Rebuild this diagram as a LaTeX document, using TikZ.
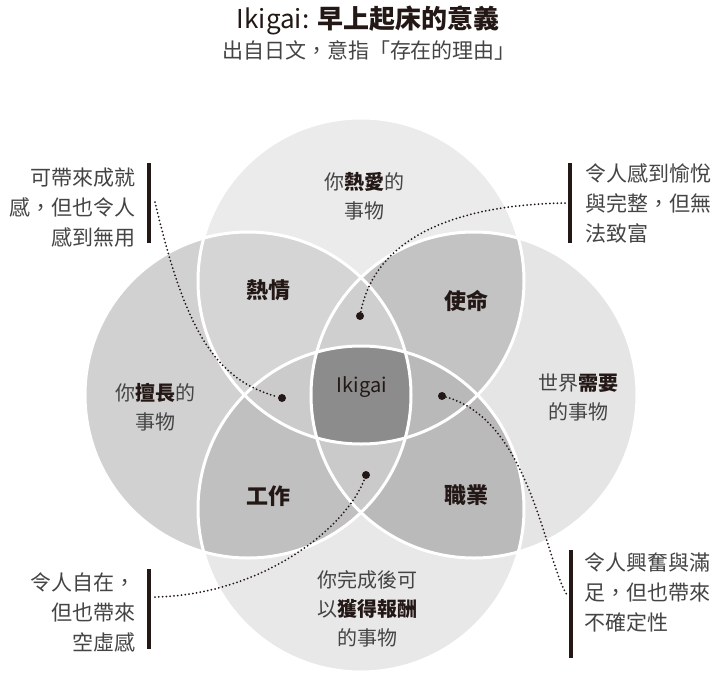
\documentclass[tikz,border=0pt]{standalone}
\usepackage{fontspec}
\setmainfont{Noto Sans CJK TC}
\definecolor{ink}{HTML}{231815}
\definecolor{txt}{HTML}{444444}
\definecolor{cTop}{HTML}{EBEBEB}
\definecolor{cLeft}{HTML}{D1D1D1}
\definecolor{cRight}{HTML}{E5E5E5}
\definecolor{cBot}{HTML}{E8E8E8}
\definecolor{cTL}{HTML}{D5D5D5}
\definecolor{cTR}{HTML}{C3C3C3}
\definecolor{cBL}{HTML}{C0C0C0}
\definecolor{cBR}{HTML}{BABABA}
\definecolor{cLensU}{HTML}{CFCFCF}
\definecolor{cLensD}{HTML}{CACACA}
\definecolor{cLensL}{HTML}{CBCBCB}
\definecolor{cLensR}{HTML}{B9B9B9}
\definecolor{cMid}{HTML}{8C8C8C}
\begin{document}
\begin{tikzpicture}[x=1pt,y=-1pt,
  lbl/.style={align=center,text=txt,font=\fontsize{20}{29}\selectfont},
  reg/.style={text=ink,font=\fontsize{22}{26}\selectfont\bfseries},
  note/.style={text=txt,font=\fontsize{21}{30}\selectfont},
  bar/.style={draw=ink,line width=4pt},
  dotline/.style={draw=ink,line width=2pt,line cap=round,dash pattern=on 0pt off 3.8pt},
  dotmark/.style={circle,fill=ink,inner sep=0pt,minimum size=8pt},
  ring/.style={draw=white,line width=3pt}]
\useasboundingbox (0,0) rectangle (721,678);
\fill[white] (0,0) rectangle (721,678);
\coordinate (T) at (361,281);
\coordinate (B) at (361,509);
\coordinate (L) at (248,395);
\coordinate (R) at (474,395);
\def\rr{163pt}
% base circles
\fill[cTop] (T) circle[radius=\rr];
\fill[cBot] (B) circle[radius=\rr];
\fill[cLeft] (L) circle[radius=\rr];
\fill[cRight] (R) circle[radius=\rr];
% pair overlaps
\begin{scope}\clip (T) circle[radius=\rr]; \fill[cTL] (L) circle[radius=\rr];\end{scope}
\begin{scope}\clip (T) circle[radius=\rr]; \fill[cTR] (R) circle[radius=\rr];\end{scope}
\begin{scope}\clip (B) circle[radius=\rr]; \fill[cBL] (L) circle[radius=\rr];\end{scope}
\begin{scope}\clip (B) circle[radius=\rr]; \fill[cBR] (R) circle[radius=\rr];\end{scope}
% lenses
\begin{scope}\clip (L) circle[radius=\rr]; \fill[cLensU] (R) circle[radius=\rr];\end{scope}
\begin{scope}\clip (L) circle[radius=\rr]; \clip (R) circle[radius=\rr]; \fill[cLensD] (B) circle[radius=\rr];\end{scope}
\begin{scope}\clip (T) circle[radius=\rr]; \fill[cLensL] (B) circle[radius=\rr];\end{scope}
\begin{scope}\clip (T) circle[radius=\rr]; \clip (B) circle[radius=\rr]; \fill[cLensR] (R) circle[radius=\rr];\end{scope}
\begin{scope}\clip (T) circle[radius=\rr]; \clip (B) circle[radius=\rr]; \clip (L) circle[radius=\rr]; \fill[cMid] (R) circle[radius=\rr];\end{scope}
% white outlines
\draw[ring] (T) circle[radius=\rr];
\draw[ring] (B) circle[radius=\rr];
\draw[ring] (L) circle[radius=\rr];
\draw[ring] (R) circle[radius=\rr];
% title
\node[text=ink,font=\fontsize{26}{30}\selectfont] (title) at (368,20) {Ikigai: {\bfseries 早上起床的意義}};
\node[text=txt,font=\fontsize{21}{24}\selectfont] (subtitle) at (369,50) {出自日文，意指「存在的理由」};
% circle labels
\node[lbl] (love) at (364,196) {你{\bfseries\color{ink}熱愛}的\\事物};
\node[lbl] (good) at (155,407) {你{\bfseries\color{ink}擅長}的\\事物};
\node[lbl] (need) at (578,397) {世界{\bfseries\color{ink}需要}\\的事物};
\node[lbl] (paid) at (367,609) {你完成後可\\以{\bfseries\color{ink}獲得報酬}\\的事物};
% region labels
\node[reg] (passion) at (268,290) {熱情};
\node[reg] (mission) at (466,301) {使命};
\node[reg] (profession) at (268,496) {工作};
\node[reg] (vocation) at (466,495) {職業};
\node[text=ink,font=\fontsize{20}{24}\selectfont] (ikigai) at (362,387) {Ikigai};
% callout notes
\node[note,anchor=east,align=right] (n1) at (139,208) {可帶來成就\\感，但也令人\\感到無用};
\node[note,anchor=west,align=left] (n2) at (582,203) {令人感到愉悅\\與完整，但無\\法致富};
\node[note,anchor=east,align=right] (n3) at (139,612) {令人自在，\\但也帶來\\空虛感};
\node[note,anchor=west,align=left] (n4) at (581,592) {令人興奮與滿\\足，但也帶來\\不確定性};
% bars
\coordinate (b1a) at (149,163); \coordinate (b1b) at (149,243);
\coordinate (b2a) at (570,163); \coordinate (b2b) at (570,243);
\coordinate (b3a) at (149,569); \coordinate (b3b) at (149,649);
\coordinate (b4a) at (571,550); \coordinate (b4b) at (571,658);
\draw[bar] (b1a) -- (b1b);
\draw[bar] (b2a) -- (b2b);
\draw[bar] (b3a) -- (b3b);
\draw[bar] (b4a) -- (b4b);
% dots and connectors
\node[dotmark] (d1) at (282,398) {};
\node[dotmark] (d2) at (360,316) {};
\node[dotmark] (d3) at (366,475) {};
\node[dotmark] (d4) at (442,396) {};
\coordinate (s1) at (155,202);
\coordinate (s2) at (565,203);
\coordinate (s3) at (155,597);
\coordinate (s4) at (567,595);
\draw[dotline] (s1) .. controls (185,330) and (215,380) .. (d1);
\draw[dotline] (s2) .. controls (450,205) and (375,240) .. (d2);
\draw[dotline] (s3) .. controls (260,595) and (345,530) .. (d3);
\draw[dotline] (d4) .. controls (530,420) and (545,560) .. (s4);
\end{tikzpicture}
\end{document}
